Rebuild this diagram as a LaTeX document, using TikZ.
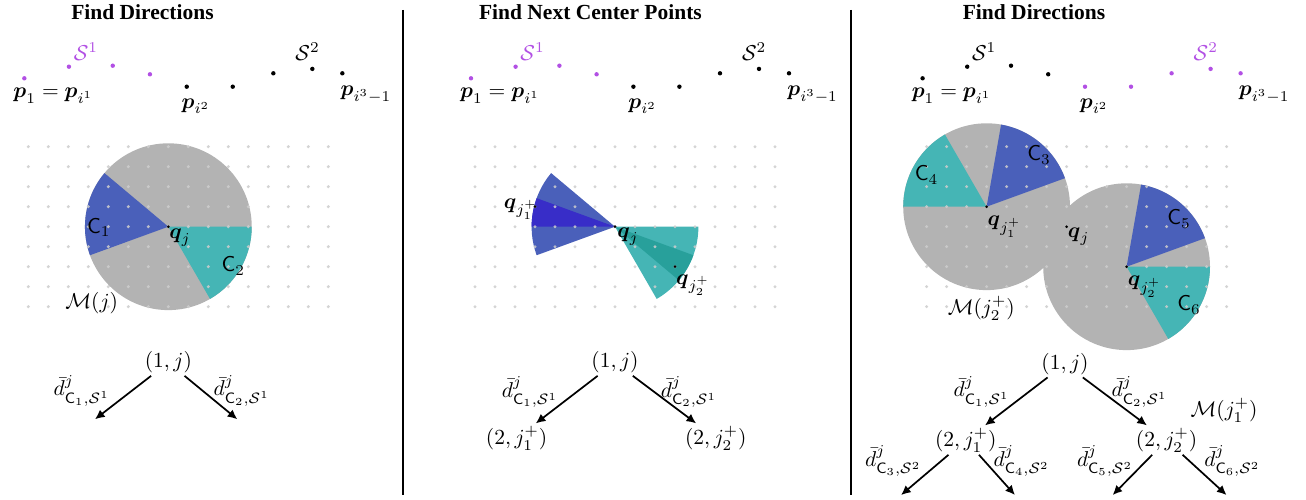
\documentclass[tikz,border=0pt]{standalone}
\usepackage{amsmath,amssymb}
\usepackage[no-math]{fontspec}
\newfontfamily\titlefont{Liberation Serif}
\usetikzlibrary{arrows.meta, calc}

\definecolor{cblue}{RGB}{74,96,186}
\definecolor{cteal}{RGB}{69,181,181}
\definecolor{cgray}{RGB}{179,179,179}
\definecolor{cdblue}{RGB}{56,45,200}
\definecolor{cdteal}{RGB}{40,160,155}
\definecolor{cpurple}{RGB}{178,80,228}
\definecolor{dotgray}{RGB}{205,205,205}

\begin{document}
\begin{tikzpicture}[x=9.302pt, y=9.302pt, line join=round,
    gdot/.style={fill=dotgray, opacity=0.85},
    lbl/.style={inner sep=0pt},
    tree/.style={inner sep=1pt},
    ttl/.style={anchor=base, font=\titlefont\bfseries},
    arr/.style={-{Latex[length=4.5pt, width=4.2pt]}, thick},
    sep/.style={line width=1pt}]
        % ---------------------------------------------------
        % 공통 값: 원판 반지름
        % ---------------------------------------------------
        \def\rad{4.17}

        \useasboundingbox (0,0) rectangle (65.3,24.95);

        % 제목
        \node[ttl] (t1) at (7.125,23.98) {Find Directions};
        \node[ttl] (t2) at (29.52,23.98) {Find Next Center Points};
        \node[ttl] (t3) at (51.7,23.98) {Find Directions};

        % 구분선
        \draw[sep] (20.135,24.45) -- (20.135,0.2);
        \draw[sep] (42.55,24.45) -- (42.55,0.2);

        % ===================================================
        % 패널 1
        % ===================================================
        \begin{scope}[shift={(8.417,13.615)}]
        \coordinate (q1) at (0,0);
        % 원판과 부채꼴
        \fill[cgray] (q1) circle (\rad);
        \fill[cblue] (q1) -- ++(140:\rad) arc[start angle=140, end angle=200, radius=\rad] -- cycle;
        \fill[cteal] (q1) -- ++(-60:\rad) arc[start angle=-60, end angle=0, radius=\rad] -- cycle;
        % 격자점
        \foreach \gx in {-7,...,8}
            \foreach \gy in {-4,...,4}
                \fill[gdot] (\gx,\gy) circle (0.083);
        % 경로 점
        \foreach \px/\py in {-7.2/7.42, -4.97/8.0, -2.78/8.05, -0.92/7.62}
            \fill[cpurple] (\px,\py) circle (0.11);
        \foreach \px/\py in {0.92/7.0, 3.22/7.0, 5.25/7.67, 7.2/7.89, 8.7/7.67}
            \fill (\px,\py) circle (0.11);
        \node[lbl, text=cpurple] (s1a) at (-4.12,8.75) {$\mathcal{S}^1$};
        \node[lbl] (s2a) at (6.96,8.76) {$\mathcal{S}^2$};
        \node[lbl] (pa1) at (-5.75,6.55) {$\boldsymbol{p}_1=\boldsymbol{p}_{i^1}$};
        \node[lbl] (pa2) at (1.38,6.04) {$\boldsymbol{p}_{i^2}$};
        \node[lbl] (pa3) at (9.88,6.61) {$\boldsymbol{p}_{i^3-1}$};
        % 중심점과 라벨
        \fill (q1) circle (0.075);
        \node[lbl] (qa) at (0.585,-0.565) {$\boldsymbol{q}_j$};
        \node[lbl] (c1a) at (-3.47,-0.05) {$\mathsf{C}_1$};
        \node[lbl] (c2a) at (3.25,-1.97) {$\mathsf{C}_2$};
        \node[lbl] (ma) at (-3.83,-3.82) {$\mathcal{M}(j)$};
        % 트리
        \node[tree] (r1) at (0,-6.79) {$(1,j)$};
        \coordinate (r1l) at (-3.67,-9.63);
        \coordinate (r1r) at (3.45,-9.63);
        \draw[arr] (r1) -- (r1l);
        \draw[arr] (r1) -- (r1r);
        \node[lbl] (da1) at (-4.33,-8.2) {$\bar{d}^{j}_{\mathsf{C}_1,\mathcal{S}^1}$};
        \node[lbl] (da2) at (3.67,-8.2) {$\bar{d}^{j}_{\mathsf{C}_2,\mathcal{S}^1}$};
        \end{scope}

        % ===================================================
        % 패널 2
        % ===================================================
        \begin{scope}[shift={(30.75,13.615)}]
        \coordinate (q2) at (0,0);
        \coordinate (q2a) at (-4,1);
        \coordinate (q2b) at (3,-2);
        % 부채꼴 (진한 띠 포함)
        \fill[cblue] (q2) -- ++(140:\rad) arc[start angle=140, end angle=200, radius=\rad] -- cycle;
        \fill[cdblue] (q2) -- ++(160:\rad) arc[start angle=160, end angle=180, radius=\rad] -- cycle;
        \fill[cteal] (q2) -- ++(-60:\rad) arc[start angle=-60, end angle=0, radius=\rad] -- cycle;
        \fill[cdteal] (q2) -- ++(-40:\rad) arc[start angle=-40, end angle=-20, radius=\rad] -- cycle;
        % 격자점
        \foreach \gx in {-7,...,8}
            \foreach \gy in {-4,...,4}
                \fill[gdot] (\gx,\gy) circle (0.083);
        % 경로 점
        \foreach \px/\py in {-7.2/7.42, -4.97/8.0, -2.78/8.05, -0.92/7.62}
            \fill[cpurple] (\px,\py) circle (0.11);
        \foreach \px/\py in {0.92/7.0, 3.22/7.0, 5.25/7.67, 7.2/7.89, 8.7/7.67}
            \fill (\px,\py) circle (0.11);
        \node[lbl, text=cpurple] (s1b) at (-4.12,8.75) {$\mathcal{S}^1$};
        \node[lbl] (s2b) at (6.96,8.76) {$\mathcal{S}^2$};
        \node[lbl] (pb1) at (-5.75,6.55) {$\boldsymbol{p}_1=\boldsymbol{p}_{i^1}$};
        \node[lbl] (pb2) at (1.38,6.04) {$\boldsymbol{p}_{i^2}$};
        \node[lbl] (pb3) at (9.88,6.61) {$\boldsymbol{p}_{i^3-1}$};
        % 중심점들
        \fill (q2) circle (0.075);
        \fill (q2a) circle (0.075);
        \fill (q2b) circle (0.075);
        \node[lbl] (qb) at (0.65,-0.5) {$\boldsymbol{q}_j$};
        \node[lbl] (qb1) at (-4.71,0.88) {$\boldsymbol{q}_{j_1^+}$};
        \node[lbl] (qb2) at (3.9,-2.92) {$\boldsymbol{q}_{j_2^+}$};
        % 트리
        \node[tree] (r2) at (0,-6.79) {$(1,j)$};
        \node[tree] (r2l) at (-4.92,-10.57) {$(2,j_1^+)$};
        \node[tree] (r2r) at (5.04,-10.57) {$(2,j_2^+)$};
        \draw[arr] (r2) -- (r2l);
        \draw[arr] (r2) -- (r2r);
        \node[lbl] (db1) at (-4.25,-8.27) {$\bar{d}^{j}_{\mathsf{C}_1,\mathcal{S}^1}$};
        \node[lbl] (db2) at (3.7,-8.27) {$\bar{d}^{j}_{\mathsf{C}_2,\mathcal{S}^1}$};
        \end{scope}

        % ===================================================
        % 패널 3
        % ===================================================
        \begin{scope}[shift={(53.33,13.615)}]
        \coordinate (q3) at (0,0);
        \coordinate (q3a) at (-4,1);
        \coordinate (q3b) at (3,-2);
        % 첫째 원판
        \fill[cgray] (q3a) circle (\rad);
        \fill[cblue] (q3a) -- ++(20:\rad) arc[start angle=20, end angle=80, radius=\rad] -- cycle;
        \fill[cteal] (q3a) -- ++(120:\rad) arc[start angle=120, end angle=180, radius=\rad] -- cycle;
        % 둘째 원판 (위에 겹침)
        \fill[cgray] (q3b) circle (\rad);
        \fill[cblue] (q3b) -- ++(20:\rad) arc[start angle=20, end angle=80, radius=\rad] -- cycle;
        \fill[cteal] (q3b) -- ++(-60:\rad) arc[start angle=-60, end angle=0, radius=\rad] -- cycle;
        % 격자점
        \foreach \gx in {-7,...,8}
            \foreach \gy in {-4,...,4}
                \fill[gdot] (\gx,\gy) circle (0.083);
        % 경로 점
        \foreach \px/\py in {-7.2/7.42, -4.97/8.0, -2.78/8.05, -0.92/7.62}
            \fill (\px,\py) circle (0.11);
        \foreach \px/\py in {0.92/7.0, 3.22/7.0, 5.25/7.67, 7.2/7.89, 8.7/7.67}
            \fill[cpurple] (\px,\py) circle (0.11);
        \node[lbl] (s1c) at (-4.12,8.75) {$\mathcal{S}^1$};
        \node[lbl, text=cpurple] (s2c) at (6.96,8.76) {$\mathcal{S}^2$};
        \node[lbl] (pc1) at (-5.75,6.55) {$\boldsymbol{p}_1=\boldsymbol{p}_{i^1}$};
        \node[lbl] (pc2) at (1.38,6.04) {$\boldsymbol{p}_{i^2}$};
        \node[lbl] (pc3) at (9.88,6.61) {$\boldsymbol{p}_{i^3-1}$};
        % 중심점들과 라벨
        \fill (q3) circle (0.075);
        \fill (q3a) circle (0.075);
        \fill (q3b) circle (0.075);
        \node[lbl] (qc) at (0.6,-0.5) {$\boldsymbol{q}_j$};
        \node[lbl] (qc1) at (-3.11,0) {$\boldsymbol{q}_{j_1^+}$};
        \node[lbl] (qc2) at (3.9,-3.0) {$\boldsymbol{q}_{j_2^+}$};
        \node[lbl] (c3c) at (-1.38,3.58) {$\mathsf{C}_3$};
        \node[lbl] (c4c) at (-7.0,2.58) {$\mathsf{C}_4$};
        \node[lbl] (c5c) at (5.62,0.38) {$\mathsf{C}_5$};
        \node[lbl] (c6c) at (6.12,-3.92) {$\mathsf{C}_6$};
        \node[lbl] (mc2) at (-4.27,-4.07) {$\mathcal{M}(j_2^+)$};
        \node[lbl] (mc1) at (7.87,-9.17) {$\mathcal{M}(j_1^+)$};
        % 트리
        \node[tree] (r3) at (-0.08,-6.87) {$(1,j)$};
        \node[tree] (r3l) at (-5.04,-10.67) {$(2,j_1^+)$};
        \node[tree] (r3r) at (5.0,-10.67) {$(2,j_2^+)$};
        \draw[arr] (r3) -- (r3l);
        \draw[arr] (r3) -- (r3r);
        \node[lbl] (dc1) at (-4.25,-8.25) {$\bar{d}^{j}_{\mathsf{C}_1,\mathcal{S}^1}$};
        \node[lbl] (dc2) at (3.65,-8.25) {$\bar{d}^{j}_{\mathsf{C}_2,\mathcal{S}^1}$};
        \coordinate (e3) at (-8.28,-13.42);
        \coordinate (e4) at (-2.58,-13.42);
        \coordinate (e5) at (2.3,-13.42);
        \coordinate (e6) at (8.0,-13.42);
        \draw[arr] (r3l) -- (e3);
        \draw[arr] (r3l) -- (e4);
        \draw[arr] (r3r) -- (e5);
        \draw[arr] (r3r) -- (e6);
        \node[lbl] (dc3) at (-8.67,-11.72) {$\bar{d}^{j}_{\mathsf{C}_3,\mathcal{S}^2}$};
        \node[lbl] (dc4) at (-2.25,-11.72) {$\bar{d}^{j}_{\mathsf{C}_4,\mathcal{S}^2}$};
        \node[lbl] (dc5) at (1.92,-11.72) {$\bar{d}^{j}_{\mathsf{C}_5,\mathcal{S}^2}$};
        \node[lbl] (dc6) at (8.29,-11.72) {$\bar{d}^{j}_{\mathsf{C}_6,\mathcal{S}^2}$};
        \end{scope}
\end{tikzpicture}
\end{document}
